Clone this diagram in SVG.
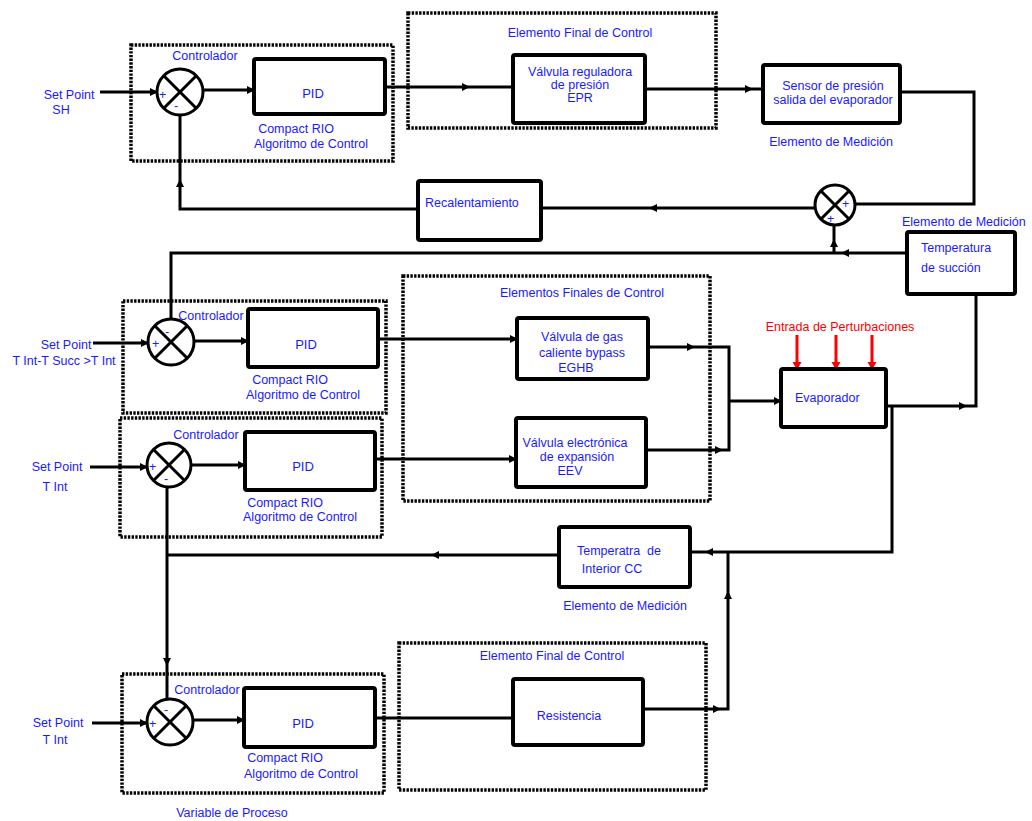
<svg xmlns="http://www.w3.org/2000/svg" xmlns:xlink="http://www.w3.org/1999/xlink" width="1032" height="821" viewBox="0 0 1032 821">
<style>
.ln{stroke:#000;stroke-width:3;fill:none}
.box{fill:#fff;stroke:#000;stroke-width:4}
.dot{fill:none;stroke:#000;stroke-width:3.5;stroke-dasharray:2.4 1.3}
.sum{fill:#fff;stroke:#000;stroke-width:3}
.x{stroke:#000;stroke-width:3}
.t{font-family:"Liberation Sans",Arial,sans-serif;font-size:12.5px;fill:#1a1aff}
.c{text-anchor:middle}
.p{font-size:13px}
.r{fill:#ff0000}
.red{stroke:#ff0000;stroke-width:3;fill:none}
</style>
<defs>
<path id="ah" d="M-7,-4 L1,0 L-7,4 z" fill="#000"/>
<path id="ahr" d="M-7,-4.5 L1,0 L-7,4.5 z" fill="#ff0000"/>
</defs>
<rect width="1032" height="821" fill="#fff"/>

<!-- dotted grouping boxes -->
<g id="grupo-controlador-1"><rect class="dot" x="131" y="45" width="262" height="116"/></g>
<g id="grupo-final-epr"><rect class="dot" x="408" y="13" width="308" height="115"/><text class="t c" x="580" y="37">Elemento Final de Control</text></g>
<g id="grupo-controlador-2"><rect class="dot" x="123" y="301" width="263" height="112"/></g>
<g id="grupo-finales"><rect class="dot" x="403" y="276" width="307" height="225"/><text class="t c" x="582" y="297">Elementos Finales de Control</text></g>
<g id="grupo-controlador-3"><rect class="dot" x="120" y="418" width="262" height="119"/></g>
<g id="grupo-controlador-4"><rect class="dot" x="122" y="674" width="262" height="119"/></g>
<g id="grupo-final-res"><rect class="dot" x="399" y="643" width="307" height="147"/><text class="t c" x="552" y="660">Elemento Final de Control</text></g>

<!-- connectors -->
<g id="connectors">
<path class="ln" d="M100,92 H157"/>
<path class="ln" d="M202,90 H254"/>
<path class="ln" d="M385,87 H513"/>
<path class="ln" d="M645,89 H763"/>
<path class="ln" d="M900,92 H974 V204 H855"/>
<path class="ln" d="M815,208 H541"/>
<path class="ln" d="M418,209 H180 V115"/>
<path class="ln" d="M907,253 H171 V320"/>
<path class="ln" d="M834,253 V225"/>
<path class="ln" d="M93,343 H148"/>
<path class="ln" d="M194,341 H248"/>
<path class="ln" d="M378,339 H517"/>
<path class="ln" d="M648,347 H729 V450 H646"/>
<path class="ln" d="M729,401 H781"/>
<path class="red" d="M797,335 V368"/>
<path class="red" d="M836,335 V368"/>
<path class="red" d="M872,335 V368"/>
<path class="ln" d="M886,406 H976 V295"/>
<path class="ln" d="M892,406 V552 H690"/>
<path class="ln" d="M559,555 H167"/>
<path class="ln" d="M167,487 V699"/>
<path class="ln" d="M90,467 H147"/>
<path class="ln" d="M191,465 H245"/>
<path class="ln" d="M375,459 H516"/>
<path class="ln" d="M92,723 H147"/>
<path class="ln" d="M193,720 H244"/>
<path class="ln" d="M375,718 H513"/>
<path class="ln" d="M643,709 H728 V553"/>
<use href="#ah" transform="translate(157,92)"/>
<use href="#ah" transform="translate(254,90)"/>
<use href="#ah" transform="translate(469,87)"/>
<use href="#ah" transform="translate(752,89)"/>
<use href="#ah" transform="translate(650,208) rotate(180)"/>
<use href="#ah" transform="translate(180,180) rotate(-90)"/>
<use href="#ah" transform="translate(842,253) rotate(180)"/>
<use href="#ah" transform="translate(834,240) rotate(-90)"/>
<use href="#ah" transform="translate(148,343)"/>
<use href="#ah" transform="translate(248,341)"/>
<use href="#ah" transform="translate(517,339)"/>
<use href="#ah" transform="translate(694,347)"/>
<use href="#ah" transform="translate(722,450)"/>
<use href="#ah" transform="translate(781,401)"/>
<use href="#ahr" transform="translate(797,369) rotate(90)"/>
<use href="#ahr" transform="translate(836,369) rotate(90)"/>
<use href="#ahr" transform="translate(872,369) rotate(90)"/>
<use href="#ah" transform="translate(966,406)"/>
<use href="#ah" transform="translate(706,552) rotate(180)"/>
<use href="#ah" transform="translate(432,555) rotate(180)"/>
<use href="#ah" transform="translate(167,665) rotate(90)"/>
<use href="#ah" transform="translate(147,467)"/>
<use href="#ah" transform="translate(245,465)"/>
<use href="#ah" transform="translate(516,459)"/>
<use href="#ah" transform="translate(147,723)"/>
<use href="#ah" transform="translate(244,720)"/>
<use href="#ah" transform="translate(720,709)"/>
<use href="#ah" transform="translate(728,592) rotate(-90)"/>
</g>

<!-- Row 1 -->
<g id="setpoint-sh"><text class="t c" x="69" y="99">Set Point</text><text class="t c" x="61" y="114">SH</text></g>
<g id="sum-1">
<circle class="sum" cx="180" cy="92" r="23"/>
<line class="x" x1="164" y1="76" x2="196" y2="108"/><line class="x" x1="196" y1="76" x2="164" y2="108"/>
<text class="t" x="159" y="99">+</text><text class="t" x="174" y="110">-</text>
<text class="t c" x="205" y="60">Controlador</text>
</g>
<g id="pid-1"><rect class="box" x="254" y="59" width="131" height="55" rx="2"/><text class="t c p" x="313" y="98">PID</text>
<text class="t c" x="296" y="133">Compact RIO</text><text class="t c" x="311" y="148">Algoritmo de Control</text></g>
<g id="valvula-epr"><rect class="box" x="513" y="55" width="132" height="68" rx="2"/>
<text class="t c" x="580" y="76">Válvula reguladora</text><text class="t c" x="580" y="89">de presión</text><text class="t c" x="580" y="102">EPR</text></g>
<g id="sensor-presion"><rect class="box" x="763" y="65" width="137" height="58" rx="2"/>
<text class="t c" x="833" y="90">Sensor de presión</text><text class="t c" x="833" y="104">salida del evaporador</text>
<text class="t c" x="831" y="146">Elemento de Medición</text></g>
<g id="recalentamiento"><rect class="box" x="418" y="181" width="123" height="59" rx="2"/><text class="t" x="425" y="207">Recalentamiento</text></g>
<g id="sum-sh">
<circle class="sum" cx="835" cy="205" r="20"/>
<line class="x" x1="821" y1="191" x2="849" y2="219"/><line class="x" x1="849" y1="191" x2="821" y2="219"/>
<text class="t" x="842" y="208">+</text><text class="t" x="827" y="223">+</text>
</g>
<g id="temperatura-succion"><text class="t" x="902" y="226">Elemento de Medición</text>
<rect class="box" x="907" y="232" width="108" height="62" rx="2"/>
<text class="t" x="921" y="252">Temperatura</text><text class="t" x="921" y="272">de succión</text></g>

<!-- Row 2 -->
<g id="setpoint-2"><text class="t c" x="66" y="349">Set Point</text><text class="t c" x="64" y="365">T Int-T Succ &gt;T Int</text></g>
<g id="sum-2">
<circle class="sum" cx="171" cy="342" r="23"/>
<line class="x" x1="155" y1="326" x2="187" y2="358"/><line class="x" x1="187" y1="326" x2="155" y2="358"/>
<text class="t" x="165" y="336">-</text><text class="t" x="152" y="348">+</text>
<text class="t c" x="211" y="320">Controlador</text>
</g>
<g id="pid-2"><rect class="box" x="248" y="309" width="130" height="58" rx="2"/><text class="t c p" x="306" y="349">PID</text>
<text class="t c" x="290" y="384">Compact RIO</text><text class="t c" x="303" y="399">Algoritmo de Control</text></g>
<g id="valvula-eghb"><rect class="box" x="517" y="318" width="131" height="61" rx="2"/>
<text class="t c" x="582" y="341">Válvula de gas</text><text class="t c" x="582" y="357">caliente bypass</text><text class="t c" x="576" y="372">EGHB</text></g>
<g id="valvula-eev"><rect class="box" x="516" y="418" width="130" height="69" rx="2"/>
<text class="t c" x="575" y="447">Válvula electrónica</text><text class="t c" x="577" y="461">de expansión</text><text class="t c" x="570" y="475">EEV</text></g>
<g id="evaporador"><text class="t c r" x="840" y="331">Entrada de Perturbaciones</text>
<rect class="box" x="781" y="369" width="105" height="58" rx="2"/><text class="t" x="795" y="402">Evaporador</text></g>

<!-- Row 3 -->
<g id="setpoint-3"><text class="t c" x="57" y="471">Set Point</text><text class="t c" x="55" y="491">T Int</text></g>
<g id="sum-3">
<circle class="sum" cx="169" cy="465" r="22"/>
<line class="x" x1="154" y1="450" x2="184" y2="480"/><line class="x" x1="184" y1="450" x2="154" y2="480"/>
<text class="t" x="149" y="471">+</text><text class="t" x="164" y="483">-</text>
<text class="t c" x="206" y="439">Controlador</text>
</g>
<g id="pid-3"><rect class="box" x="245" y="432" width="130" height="58" rx="2"/><text class="t c p" x="303" y="471">PID</text>
<text class="t c" x="285" y="507">Compact RIO</text><text class="t c" x="300" y="521">Algoritmo de Control</text></g>
<g id="temperatura-interior"><rect class="box" x="559" y="527" width="131" height="60" rx="2"/>
<text class="t c" x="619" y="555" style="white-space:pre">Temperatra  de</text><text class="t c" x="612" y="573">Interior CC</text>
<text class="t c" x="625" y="610">Elemento de Medición</text></g>

<!-- Row 4 -->
<g id="setpoint-4"><text class="t c" x="58" y="727">Set Point</text><text class="t c" x="55" y="744">T Int</text></g>
<g id="sum-4">
<circle class="sum" cx="170" cy="722" r="23"/>
<line class="x" x1="154" y1="706" x2="186" y2="738"/><line class="x" x1="186" y1="706" x2="154" y2="738"/>
<text class="t" x="164" y="714">-</text><text class="t" x="149" y="728">+</text>
<text class="t c" x="207" y="694">Controlador</text>
</g>
<g id="pid-4"><rect class="box" x="244" y="688" width="131" height="59" rx="2"/><text class="t c p" x="303" y="728">PID</text>
<text class="t c" x="285" y="762">Compact RIO</text><text class="t c" x="301" y="778">Algoritmo de Control</text>
<text class="t c" x="232" y="817">Variable de Proceso</text></g>
<g id="resistencia"><rect class="box" x="513" y="679" width="130" height="66" rx="2"/><text class="t c" x="569" y="720">Resistencia</text></g>
</svg>
